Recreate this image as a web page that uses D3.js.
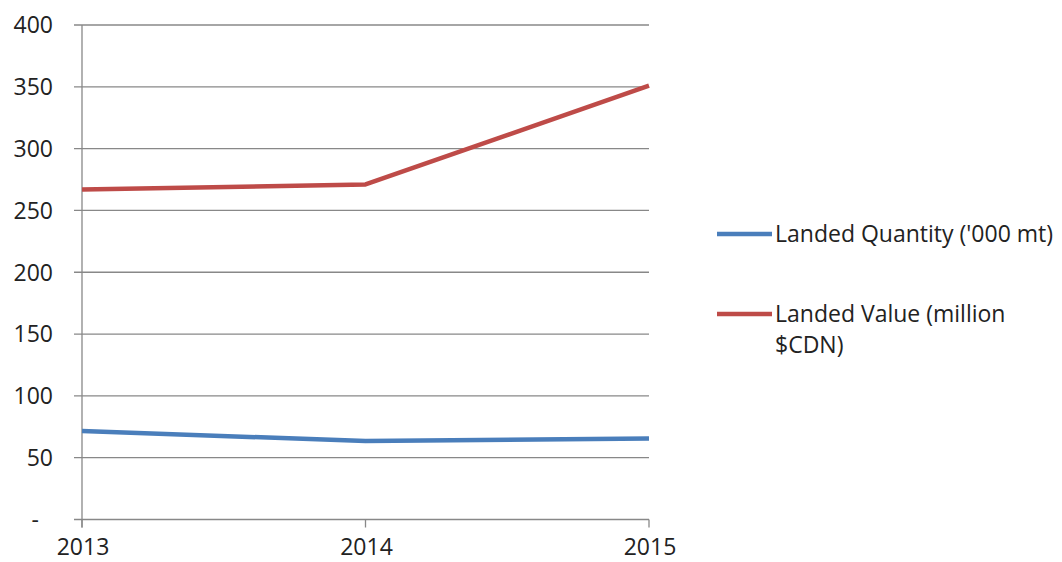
<!DOCTYPE html>
<html><head><meta charset="utf-8">
<script src="https://cdn.jsdelivr.net/npm/d3@7"></script>
<style>body{margin:0;background:#fff}svg{display:block}</style>
</head><body>
<svg id="c" width="1062" height="562"></svg>
<script>
const years = ["2013", "2014", "2015"];
const quantity = [71.5, 63.5, 65.5];
const value = [267, 271, 351];
const yTicks = [0, 50, 100, 150, 200, 250, 300, 350, 400];
const seriesNames = ["Landed Quantity ('000 mt)", "Landed Value (million $CDN)"];
const seriesColors = ["#4A7EBB", "#BE4B48"];

const svg = d3.select("#c");
const font = "'Open Sans', sans-serif";
const fs = 23;
const x = d3.scalePoint().domain(years).range([82, 649]);
const y = d3.scaleLinear().domain([0, 400]).range([519.5, 25]);

svg.append("g").selectAll("line").data(yTicks).join("line")
  .attr("x1", 74).attr("x2", 649)
  .attr("y1", d => y(d)).attr("y2", d => y(d))
  .attr("stroke", "#888").attr("stroke-width", 1.3);

svg.append("line").attr("x1", x(years[0])).attr("x2", x(years[0]))
  .attr("y1", y(400)).attr("y2", y(0) + 8).attr("stroke", "#888").attr("stroke-width", 1.3);
svg.append("g").selectAll("line").data(years).join("line")
  .attr("x1", d => x(d)).attr("x2", d => x(d))
  .attr("y1", y(0)).attr("y2", y(0) + 8)
  .attr("stroke", "#888").attr("stroke-width", 1.3);

svg.append("g").selectAll("text").data(yTicks).join("text")
  .attr("x", d => d === 0 ? 39 : 53)
  .attr("y", d => y(d))
  .attr("dy", "0.36em")
  .attr("text-anchor", "end")
  .attr("font-family", font).attr("font-size", fs).attr("fill", "#222")
  .text(d => d === 0 ? "-" : d);

svg.append("g").selectAll("text").data(years).join("text")
  .attr("x", d => x(d) + 1).attr("y", 555)
  .attr("text-anchor", "middle")
  .attr("font-family", font).attr("font-size", fs).attr("fill", "#222")
  .text(d => d);

const line = d3.line().x((d, i) => x(years[i])).y(d => y(d));
[quantity, value].forEach((s, i) => {
  svg.append("path").attr("d", line(s)).attr("fill", "none")
    .attr("stroke", seriesColors[i]).attr("stroke-width", 4.5)
    .attr("stroke-linejoin", "round");
});

const leg = [
  {lines: ["Landed Quantity ('000 mt)"], y: 234},
  {lines: ["Landed Value (million", "$CDN)"], y: 314}
];
leg.forEach((l, i) => {
  svg.append("line").attr("x1", 717).attr("x2", 772).attr("y1", l.y).attr("y2", l.y)
    .attr("stroke", seriesColors[i]).attr("stroke-width", 4.5);
  const t = svg.append("text").attr("font-family", font).attr("font-size", fs).attr("fill", "#222");
  l.lines.forEach((tx, j) => {
    t.append("tspan").attr("x", 775).attr("y", l.y + j * 31).attr("dy", "0.36em").text(tx);
  });
});
</script>
</body></html>
